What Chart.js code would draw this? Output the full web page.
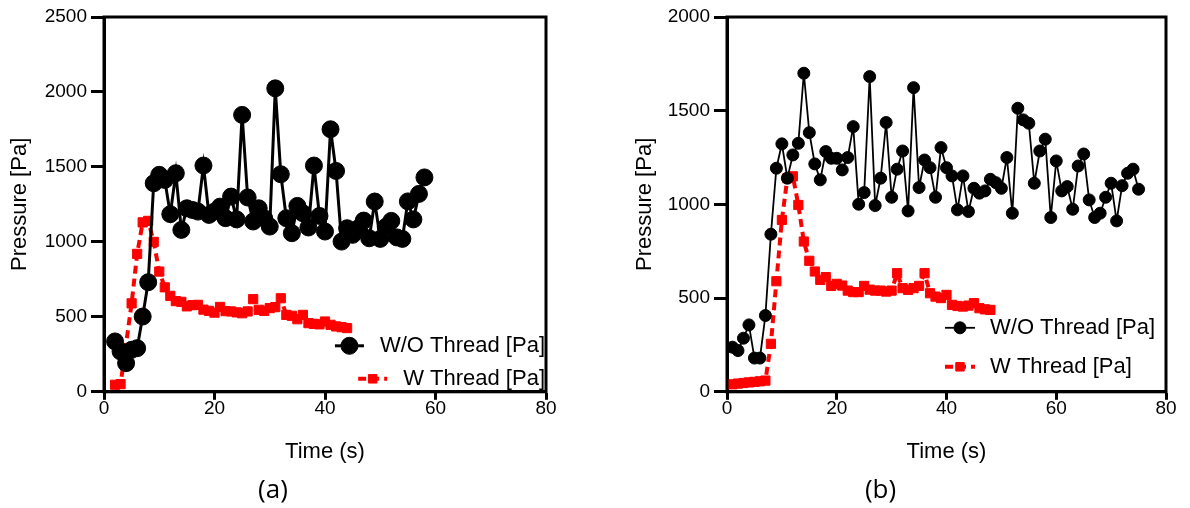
<!DOCTYPE html>
<html>
<head>
<meta charset="utf-8">
<script src="https://cdn.jsdelivr.net/npm/chart.js@4.4.0/dist/chart.umd.min.js"></script>
<style>
  html, body { margin: 0; padding: 0; background: #fff; }
  .wrap { position: absolute; top: 0; width: 595px; height: 508px; }
  #boxA { left: 0; }
  #boxB { left: 595px; }
</style>
</head>
<body>
<div class="wrap" id="boxA"><canvas id="chartA"></canvas></div>
<div class="wrap" id="boxB"><canvas id="chartB"></canvas></div>
<script>
// ---- panel (a) ----
const timeA_wo = [2,3,4,5,6,7,8,9,10,11,12,13,14,15,16,17,18,19,20,21,22,23,24,25,26,27,28,29,30,31,32,33,34,35,36,37,38,39,40,41,42,43,44,45,46,47,48,49,50,51,52,53,54,55,56,57,58]
const pressA_wo = [336,269,191,280,291,502,731,1391,1447,1413,1185,1458,1080,1224,1213,1202,1509,1180,1202,1235,1158,1302,1150,1847,1296,1136,1224,1157,1102,2024,1451,1158,1058,1240,1191,1096,1509,1173,1069,1751,1473,1002,1091,1047,1090,1142,1024,1269,1020,1100,1140,1030,1020,1270,1150,1320,1430]
const timeA_w = [2,3,5,6,7,8,9,10,11,12,13,14,15,16,17,18,19,20,21,22,23,24,25,26,27,28,29,30,31,32,33,34,35,36,37,38,39,40,41,42,43,44]
const pressA_w = [47,51,590,920,1130,1140,1000,802,697,640,605,600,570,578,580,548,540,528,566,538,536,530,524,536,618,547,540,558,565,624,513,507,484,513,458,453,450,469,447,436,431,425]

// ---- panel (b) ----
const timeB_wo = [1,2,3,4,5,6,7,8,9,10,11,12,13,14,15,16,17,18,19,20,21,22,23,24,25,26,27,28,29,30,31,32,33,34,35,36,37,38,39,40,41,42,43,44,45,46,47,48,49,50,51,52,53,54,55,56,57,58,59,60,61,62,63,64,65,66,67,68,69,70,71,72,73,74,75]
const pressB_wo = [238,220,286,357,180,180,407,841,1193,1323,1140,1264,1326,1700,1383,1216,1131,1282,1246,1246,1184,1250,1415,1001,1063,1682,994,1140,1437,1038,1188,1285,965,1623,1090,1237,1196,1038,1303,1196,1152,971,1152,962,1086,1060,1072,1134,1116,1086,1250,953,1513,1451,1433,1113,1285,1348,930,1232,1072,1095,974,1205,1269,1024,930,953,1038,1113,912,1100,1166,1188,1081]
const timeB_w = [1,2,3,4,5,6,7,8,9,10,11,12,13,14,15,16,17,18,19,20,21,22,23,24,25,26,27,28,29,30,31,32,33,34,35,36,37,38,39,40,41,42,43,44,45,46,47,48]
const pressB_w = [40,44,47,50,53,56,60,256,590,917,1140,1150,997,802,699,642,597,612,565,576,567,540,532,532,565,545,540,540,535,540,633,553,544,553,565,633,526,508,500,517,464,458,455,460,473,446,440,437]

const xTicks = [0, 20, 40, 60, 80]
const yTicksA = [0, 500, 1000, 1500, 2000, 2500]
const yTicksB = [0, 500, 1000, 1500, 2000]
const labelWO = 'W/O Thread [Pa]'
const labelW = 'W Thread [Pa]'

const FONT = '"Liberation Sans", Arial, sans-serif'
Chart.defaults.color = '#000'
Chart.defaults.font.family = FONT

function pts(xs, ys) {
  return xs.map((x, i) => ({ x: x, y: ys[i] }))
}

// box around the plot area
const frame = {
  id: 'frame',
  afterDraw(chart) {
    const a = chart.chartArea, ctx = chart.ctx
    ctx.save()
    ctx.strokeStyle = '#000'
    ctx.lineWidth = 3
    ctx.strokeRect(a.left, a.top, a.right - a.left, a.bottom - a.top)
    ctx.restore()
  }
}

// legend drawn inside the plot, with line + marker samples
const lineLegend = {
  id: 'lineLegend',
  afterDraw(chart, args, o) {
    const a = chart.chartArea, ctx = chart.ctx
    ctx.save()
    ctx.font = '22px ' + FONT
    ctx.textBaseline = 'middle'
    chart.data.datasets.forEach((ds, i) => {
      const y = a.bottom - o.rows[i]
      const w = ctx.measureText(ds.label).width
      let tx
      if (o.align === 'right') tx = a.right - o.x - w
      else tx = a.left + o.x
      const x1 = tx - o.gap, x0 = x1 - o.sample
      ctx.strokeStyle = ds.borderColor
      ctx.lineWidth = ds.borderWidth
      ctx.setLineDash(ds.borderDash || [])
      ctx.beginPath()
      ctx.moveTo(x0, y)
      ctx.lineTo(x1, y)
      ctx.stroke()
      ctx.setLineDash([])
      ctx.fillStyle = ds.pointBackgroundColor
      ctx.strokeStyle = ds.borderColor
      ctx.lineWidth = 1
      Chart.helpers.drawPoint(ctx, { pointStyle: ds.pointStyle, radius: o.markers[i], rotation: 0, borderWidth: 1 }, (x0 + x1) / 2, y)
      ctx.fillStyle = '#000'
      ctx.fillText(ds.label, tx, y)
    })
    ctx.restore()
  }
}

function makeChart(id, cfg) {
  return new Chart(document.getElementById(id), {
    type: 'line',
    data: {
      datasets: [{
        label: labelWO,
        data: pts(cfg.woT, cfg.woP),
        borderColor: '#000',
        backgroundColor: '#000',
        pointBackgroundColor: '#000',
        borderWidth: cfg.woLine,
        pointStyle: 'circle',
        pointRadius: cfg.woR,
        pointBorderWidth: 1,
        tension: 0
      }, {
        label: labelW,
        data: pts(cfg.wT, cfg.wP),
        borderColor: '#ff0000',
        backgroundColor: '#ff0000',
        pointBackgroundColor: '#ff0000',
        borderWidth: 4,
        borderDash: [8, 5],
        pointStyle: 'rect',
        pointRadius: 6.5,
        pointBorderWidth: 1,
        tension: 0
      }]
    },
    options: {
      responsive: true,
      maintainAspectRatio: false,
      animation: false,
      layout: { padding: { top: 17, right: cfg.padRight, left: 0, bottom: 0 } },
      scales: {
        x: {
          type: 'linear',
          min: 0,
          max: 80,
          afterBuildTicks: s => { s.ticks = xTicks.map(v => ({ value: v })) },
          afterFit: s => { s.height = 77 },
          grid: { drawOnChartArea: false, drawTicks: true, tickLength: 8, tickWidth: 3, tickColor: '#000' },
          border: { color: '#000', width: 3 },
          ticks: { font: { size: 19 }, color: '#000', padding: -2, callback: v => String(v) },
          title: { display: true, text: 'Time (s)', font: { size: 22 }, color: '#000', padding: { top: 0, bottom: 4 } }
        },
        y: {
          min: 0,
          max: cfg.yMax,
          afterBuildTicks: s => { s.ticks = cfg.yTicks.map(v => ({ value: v })) },
          afterFit: s => { s.width = cfg.yWidth },
          grid: { drawOnChartArea: false, drawTicks: true, tickLength: 13, tickWidth: 3, tickColor: '#000' },
          border: { color: '#000', width: 3 },
          ticks: { font: { size: 19 }, color: '#000', padding: 4, callback: v => String(v) },
          title: { display: true, text: 'Pressure [Pa]', font: { size: 22 }, color: '#000', padding: { top: cfg.yTitlePad, bottom: 0 } }
        }
      },
      plugins: {
        legend: { display: false },
        tooltip: { enabled: false },
        title: {
          display: true,
          position: 'bottom',
          text: cfg.panel,
          color: '#000',
          font: { size: 26, family: '"Open Sans", sans-serif', weight: 'normal' },
          padding: { top: 6, bottom: 2 }
        },
        lineLegend: cfg.legend
      }
    },
    plugins: [frame, lineLegend]
  })
}

makeChart('chartA', {
  woT: timeA_wo, woP: pressA_wo, wT: timeA_w, wP: pressA_w,
  woLine: 3, woR: 8.5, yMax: 2500, yTicks: yTicksA,
  yWidth: 104, yTitlePad: 7, padRight: 49, panel: '(a)',
  legend: { align: 'right', x: 1, rows: [46, 13], gap: 16, sample: 29, markers: [8.5, 6] }
})

makeChart('chartB', {
  woT: timeB_wo, woP: pressB_wo, wT: timeB_w, wP: pressB_w,
  woLine: 1.8, woR: 6, yMax: 2000, yTicks: yTicksB,
  yWidth: 132, yTitlePad: 37, padRight: 24, panel: '(b)',
  legend: { align: 'left', x: 263, rows: [64, 25], gap: 15, sample: 30, markers: [6, 6] }
})
</script>
</body>
</html>
